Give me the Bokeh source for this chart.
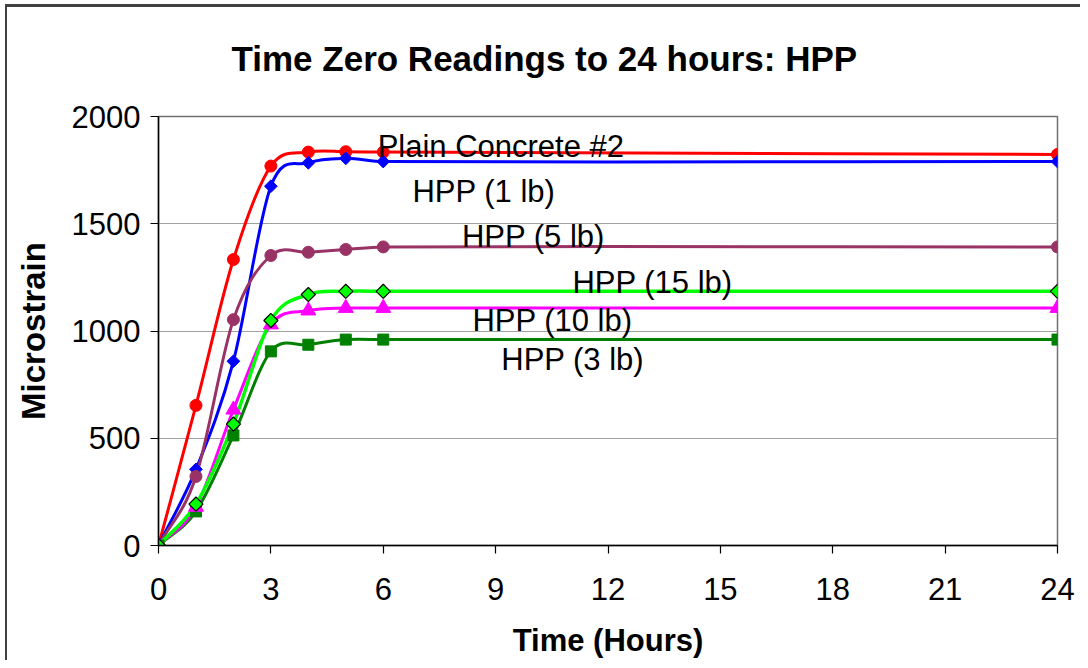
import numpy as np
from bokeh.plotting import figure
from bokeh.models import Label, FixedTicker, Title, InlineStyleSheet
from bokeh.embed import file_html
from bokeh.resources import INLINE

# ---- data ----
hours = [0, 1, 2, 3, 4, 5, 6, 24]
plain_concrete_2 = [0, 653, 1333, 1769, 1834, 1836, 1834, 1823]
hpp_1lb = [0, 355, 859, 1675, 1784, 1805, 1790, 1790]
hpp_5lb = [0, 322, 1053, 1352, 1367, 1380, 1392, 1392]
hpp_3lb = [0, 159, 513, 905, 936, 960, 960, 960]
hpp_10lb = [0, 180, 633, 1030, 1095, 1107, 1107, 1107]
hpp_15lb = [0, 193, 566, 1049, 1170, 1185, 1185, 1185]

series_names = ["Plain Concrete #2", "HPP (1 lb)", "HPP (5 lb)",
                "HPP (3 lb)", "HPP (10 lb)", "HPP (15 lb)"]
x_ticks = [0, 3, 6, 9, 12, 15, 18, 21, 24]
y_ticks = [0, 500, 1000, 1500, 2000]

# ---- styles ----
styles = {
    "Plain Concrete #2": dict(color="#FF0000", marker="circle", size=12, angle=0.0, outline="#FF0000", lw=3),
    "HPP (1 lb)": dict(color="#0000FF", marker="square", size=9, angle=np.pi / 4, outline="#0000FF", lw=3),
    "HPP (5 lb)": dict(color="#993366", marker="circle", size=12, angle=0.0, outline="#993366", lw=3),
    "HPP (3 lb)": dict(color="#008000", marker="square", size=11, angle=0.0, outline="#008000", lw=3),
    "HPP (10 lb)": dict(color="#FF00FF", marker="triangle", size=15, angle=0.0, outline="#FF00FF", lw=3),
    "HPP (15 lb)": dict(color="#00FF00", marker="square", size=10, angle=np.pi / 4, outline="#000000", lw=3.5),
}
# label anchor (left edge, baseline) in data units
label_pos = {
    "Plain Concrete #2": (5.85, 1862),
    "HPP (1 lb)": (6.78, 1652),
    "HPP (5 lb)": (8.10, 1442),
    "HPP (15 lb)": (11.05, 1228),
    "HPP (10 lb)": (8.38, 1050),
    "HPP (3 lb)": (9.15, 868),
}

FONT = "Liberation Sans"


def hermite_bezier(xs, ys):
    """Smoothed-line bezier segments (cubic Hermite, finite-difference tangents)."""
    xs = np.asarray(xs, float)
    ys = np.asarray(ys, float)
    n = len(xs)
    m = np.zeros(n)
    for i in range(n):
        if i == 0:
            m[i] = (ys[1] - ys[0]) / (xs[1] - xs[0])
        elif i == n - 1:
            m[i] = (ys[-1] - ys[-2]) / (xs[-1] - xs[-2])
        else:
            m[i] = (ys[i + 1] - ys[i - 1]) / (xs[i + 1] - xs[i - 1])
    h = xs[1:] - xs[:-1]
    return dict(
        x0=xs[:-1], y0=ys[:-1], x1=xs[1:], y1=ys[1:],
        cx0=xs[:-1] + h / 3, cy0=ys[:-1] + m[:-1] * h / 3,
        cx1=xs[1:] - h / 3, cy1=ys[1:] - m[1:] * h / 3,
    )


p = figure(width=1080, height=660, x_range=(0, 24), y_range=(0, 2000),
           output_backend="svg", toolbar_location=None,
           min_border_left=158, min_border_right=23,
           min_border_top=116, min_border_bottom=115)

p.title.text = "Time Zero Readings to 24 hours: HPP"
p.title.text_font = FONT
p.title.text_font_style = "bold"
p.title.text_font_size = "35px"
p.title.align = "left"
p.title.offset = 73
p.title.text_color = "#000000"

# spacer panel between the title and the frame
p.add_layout(Title(text=" ", text_font_size="20px"), "above")

p.stylesheets = [InlineStyleSheet(css="""
:host::after {
  content: "";
  position: absolute;
  left: 5px; top: 4px; right: 0; bottom: 0;
  border-left: 2px solid #404040;
  border-top: 3px solid #404040;
  pointer-events: none;
}
""")]

p.outline_line_color = "#707070"
p.outline_line_width = 1.5
p.background_fill_color = "#FFFFFF"
p.border_fill_color = "#FFFFFF"

p.xgrid.visible = False
p.ygrid.grid_line_color = "#A0A0A0"
p.ygrid.grid_line_width = 1.2
p.ygrid.ticker = FixedTicker(ticks=y_ticks)

for ax in (p.xaxis[0], p.yaxis[0]):
    ax.axis_line_color = "#000000"
    ax.axis_line_width = 1.5
    ax.major_tick_line_color = "#000000"
    ax.major_tick_line_width = 1.2
    ax.major_tick_out = 8
    ax.major_tick_in = 0
    ax.minor_tick_out = 0
    ax.minor_tick_in = 0
    ax.major_label_text_font = FONT
    ax.major_label_text_font_size = "31px"
    ax.major_label_text_color = "#000000"
    ax.axis_label_text_font = FONT
    ax.axis_label_text_font_style = "bold"
    ax.axis_label_text_color = "#000000"

p.xaxis.ticker = FixedTicker(ticks=x_ticks)
p.yaxis.ticker = FixedTicker(ticks=y_ticks)
p.xaxis.axis_label = "Time (Hours)"
p.yaxis.axis_label = "Microstrain"
p.xaxis.axis_label_text_font_size = "31px"
p.yaxis.axis_label_text_font_size = "33px"
p.xaxis.major_label_standoff = 24
p.yaxis.major_label_standoff = 10
p.xaxis.axis_label_standoff = 20
p.yaxis.axis_label_standoff = 17

data = {
    "Plain Concrete #2": plain_concrete_2,
    "HPP (1 lb)": hpp_1lb,
    "HPP (5 lb)": hpp_5lb,
    "HPP (3 lb)": hpp_3lb,
    "HPP (10 lb)": hpp_10lb,
    "HPP (15 lb)": hpp_15lb,
}

for name in series_names:
    st = styles[name]
    seg = hermite_bezier(hours, data[name])
    p.bezier(line_color=st["color"], line_width=st["lw"], **seg)

for name in series_names:
    st = styles[name]
    p.scatter(hours, data[name], marker=st["marker"], size=st["size"],
              angle=st["angle"], fill_color=st["color"],
              line_color=st["outline"], line_width=1.2 if st["outline"] == "#000000" else 1)

for name, (lx, ly) in label_pos.items():
    p.add_layout(Label(x=lx, y=ly, text=name, text_font=FONT,
                       text_font_size="31px", text_color="#000000",
                       text_baseline="alphabetic", text_align="left"))

open("out.html", "w").write(file_html(p, INLINE))
